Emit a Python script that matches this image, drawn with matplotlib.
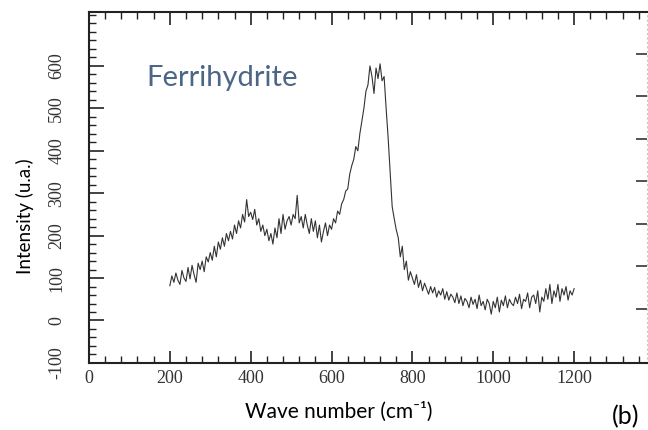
import numpy as np
import matplotlib
matplotlib.use("Agg")
from matplotlib import pyplot as plt
from matplotlib.ticker import MultipleLocator

plt.rcParams["axes.unicode_minus"] = False

# Raman spectrum of ferrihydrite (step 5 cm-1)
wave_start = 200
wave_step = 5
intensity = [
    # 200 - 245
    82, 105, 90, 112, 95, 85, 118, 100, 92, 125,
    # 250 - 295
    98, 130, 108, 90, 135, 120, 140, 115, 150, 138,
    # 300 - 345
    160, 142, 175, 150, 185, 168, 195, 175, 205, 188,
    # 350 - 395
    210, 192, 225, 205, 235, 218, 250, 232, 285, 245,
    # 400 - 445
    255, 238, 262, 225, 240, 210, 225, 200, 215, 188,
    # 450 - 495
    205, 180, 218, 195, 240, 205, 250, 215, 235, 245,
    # 500 - 545
    225, 250, 240, 295, 230, 245, 218, 250, 225, 205,
    # 550 - 595
    240, 210, 235, 195, 225, 185, 210, 230, 200, 225,
    # 600 - 645
    215, 240, 230, 258, 250, 275, 285, 305, 310, 345,
    # 650 - 695
    365, 380, 410, 400, 440, 470, 500, 540, 555, 600,
    # 700 - 745
    575, 535, 595, 570, 605, 565, 575, 500, 430, 350,
    # 750 - 795
    268, 240, 214, 195, 150, 175, 120, 140, 95, 115,
    # 800 - 845
    100, 85, 108, 78, 95, 70, 88, 75, 62, 80,
    # 850 - 895
    65, 78, 55, 70, 60, 75, 50, 68, 48, 62,
    # 900 - 945
    55, 42, 65, 40, 58, 35, 52, 45, 30, 55,
    # 950 - 995
    38, 50, 28, 60, 35, 45, 25, 50, 40, 15,
    # 1000 - 1045
    45, 30, 55, 20, 48, 35, 58, 30, 50, 40,
    # 1050 - 1095
    35, 55, 40, 62, 28, 50, 45, 65, 30, 55,
    # 1100 - 1145
    60, 40, 70, 20, 55, 45, 75, 50, 85, 40,
    # 1150 - 1195
    70, 55, 85, 45, 75, 60, 80, 48, 70, 60,
    # 1200
    75,
]
wave = wave_start + wave_step * np.arange(len(intensity))

x_ticks = [0, 200, 400, 600, 800, 1000, 1200]
y_ticks = [-100, 0, 100, 200, 300, 400, 500, 600]

serif = "Liberation Serif"
sans = ["Lato", "DejaVu Sans"]

fig = plt.figure(figsize=(6.48, 4.30), dpi=100)
ax = fig.add_axes([0.1373, 0.156, 0.861, 0.816])

ax.plot(wave, intensity, color="#333333", lw=0.8)

ax.set_xlim(0, 1380)
ax.set_ylim(-100, 727)
ax.set_xticks(x_ticks)
ax.set_yticks(y_ticks)
ax.xaxis.set_minor_locator(MultipleLocator(40))
ax.yaxis.set_minor_locator(MultipleLocator(20))

for lbl in ax.get_xticklabels():
    lbl.set_family(serif)
for lbl in ax.get_yticklabels():
    lbl.set_family(serif)
    lbl.set_rotation(90)
    lbl.set_va("center")

ax.tick_params(axis="both", which="both", direction="in", colors="#222222",
               labelsize=13, labelcolor="#333333")
ax.tick_params(axis="x", which="major", length=9, width=1.2, top=True, pad=5)
ax.tick_params(axis="x", which="minor", length=5, width=1.0, top=True)
ax.tick_params(axis="y", which="major", length=11, width=1.2, pad=17)
ax.tick_params(axis="y", which="minor", length=5, width=1.0)

for side in ["left", "bottom", "top"]:
    ax.spines[side].set_linewidth(1.5)
    ax.spines[side].set_color("#222222")
ax.spines["right"].set_color("#c8c8c8")
ax.spines["right"].set_linestyle((0, (1, 3)))

# right axis ticks are shifted relative to the left ones
sec = ax.secondary_yaxis("right", functions=(lambda y: y - 28, lambda y: y + 28))
sec.set_yticks([0, 100, 200, 300, 400, 500, 600])
sec.tick_params(direction="in", length=8, width=1.2, labelright=False,
                colors="#333333")
sec.spines["right"].set_visible(False)

fig.text(0.343, 0.819, "Ferrihydrite", family=sans, fontsize=21,
         color="#4d6686", ha="center", va="center")
fig.text(0.522, 0.042, "Wave number (cm\u207b\u00b9)", family=sans,
         fontsize=15, ha="center", va="center")
fig.text(0.039, 0.497, "Intensity (u.a.)", family=sans, fontsize=13.5,
         rotation=90, ha="center", va="center")
fig.text(0.966, 0.005, "(b)", family=sans, fontsize=18,
         ha="center", va="bottom")

fig.savefig("out.png", dpi=100)
